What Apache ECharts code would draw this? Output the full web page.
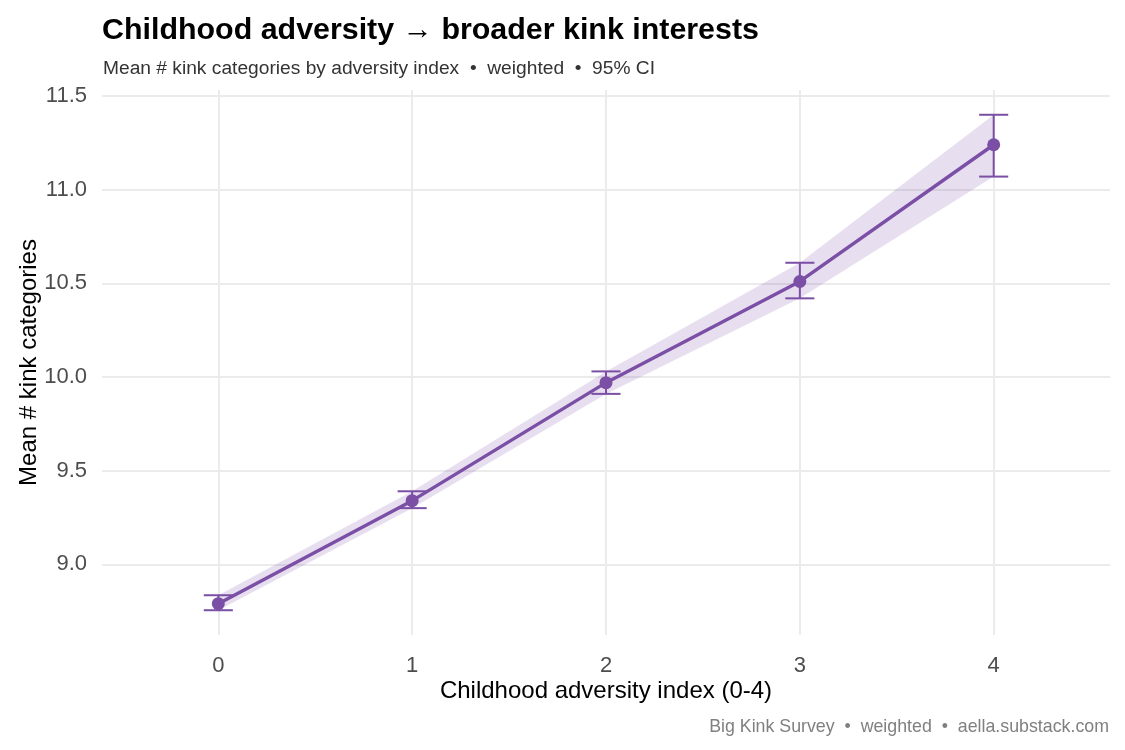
<!DOCTYPE html>
<html>
<head>
<meta charset="utf-8">
<script src="https://cdn.jsdelivr.net/npm/echarts@6/dist/echarts.min.js"></script>
<style>
  html, body { margin: 0; padding: 0; background: #fff; }
  #chart { width: 1125px; height: 750px; }
</style>
</head>
<body>
<div id="chart"></div>
<script>
// adversity index 0-4, weighted means with 95% CI
const adversity = [0, 1, 2, 3, 4];
const meanKinks = [8.79, 9.34, 9.97, 10.51, 11.24];
const ciLow = [8.755, 9.30, 9.91, 10.42, 11.07];
const ciHigh = [8.835, 9.39, 10.03, 10.61, 11.40];
const xTicks = [0, 1, 2, 3, 4];
const yTicks = [9.0, 9.5, 10.0, 10.5, 11.0, 11.5];

const purple = '#7A4FA5';
const font = 'Liberation Sans, Arial, sans-serif';

// ggplot style padding: 5% of data range on y, 0.6 on x
const yLo = Math.min(...ciLow), yHi = Math.max(...ciHigh);
const yPad = (yHi - yLo) * 0.05;

const chart = echarts.init(document.getElementById('chart'));

const option = {
    backgroundColor: '#fff',
    animation: false,
    title: [{
        text: 'Childhood adversity \u2192 broader kink interests',
        left: 97,
        top: 11,
        textStyle: { fontFamily: font, fontSize: 30.4, fontWeight: 'bold', color: '#000' }
    }, {
        text: 'Mean # kink categories by adversity index  \u2022  weighted  \u2022  95% CI',
        left: 98,
        top: 54,
        textStyle: { fontFamily: font, fontSize: 19.2, fontWeight: 'normal', color: '#333' }
    }, {
        text: 'Big Kink Survey  \u2022  weighted  \u2022  aella.substack.com',
        right: 11,
        top: 713,
        textStyle: { fontFamily: font, fontSize: 17.8, fontWeight: 'normal', color: '#808080' }
    }],
    grid: {
        left: 102,
        right: 15,
        top: 90,
        bottom: 115
    },
    xAxis: {
        type: 'value',
        min: -0.6,
        max: 4.6,
        name: 'Childhood adversity index (0-4)',
        nameLocation: 'middle',
        nameGap: 44,
        nameMoveOverlap: false,
        nameTextStyle: { fontFamily: font, fontSize: 24, color: '#000' },
        axisLine: { show: false },
        axisTick: { show: false, customValues: xTicks },
        axisLabel: {
            customValues: xTicks,
            margin: 20,
            fontFamily: font,
            fontSize: 22,
            color: '#4d4d4d'
        },
        splitLine: { show: true, lineStyle: { color: '#ebebeb', width: 2 } }
    },
    yAxis: {
        type: 'value',
        min: yLo - yPad,
        max: yHi + yPad,
        name: 'Mean # kink categories',
        nameLocation: 'middle',
        nameGap: 61,
        nameMoveOverlap: false,
        nameTextStyle: { fontFamily: font, fontSize: 24, color: '#000' },
        axisLine: { show: false },
        axisTick: { show: false, customValues: yTicks },
        axisLabel: {
            customValues: yTicks,
            margin: 15,
            fontFamily: font,
            fontSize: 22,
            color: '#4d4d4d',
            formatter: v => v.toFixed(1)
        },
        splitLine: { show: true, lineStyle: { color: '#ebebeb', width: 2 } }
    },
    series: [{
        // CI ribbon, one polygon built from the arrays
        type: 'custom',
        data: [0],
        silent: true,
        renderItem: function (params, api) {
            const upper = adversity.map((x, i) => api.coord([x, ciHigh[i]]));
            const lower = adversity.map((x, i) => api.coord([x, ciLow[i]])).reverse();
            return {
                type: 'polygon',
                shape: { points: upper.concat(lower) },
                style: { fill: 'rgba(122,79,165,0.18)' }
            };
        },
        z: 1
    }, {
        // error bars
        type: 'custom',
        data: adversity.map((x, i) => [x, ciLow[i], ciHigh[i]]),
        renderItem: function (params, api) {
            const x = api.value(0);
            const lo = api.coord([x, api.value(1)]);
            const hi = api.coord([x, api.value(2)]);
            const half = 0.075;
            const l = api.coord([x - half, api.value(1)])[0];
            const r = api.coord([x + half, api.value(1)])[0];
            const style = { stroke: purple, lineWidth: 2 };
            return {
                type: 'group',
                children: [
                    { type: 'line', shape: { x1: lo[0], y1: lo[1], x2: hi[0], y2: hi[1] }, style: style },
                    { type: 'line', shape: { x1: l, y1: hi[1], x2: r, y2: hi[1] }, style: style },
                    { type: 'line', shape: { x1: l, y1: lo[1], x2: r, y2: lo[1] }, style: style }
                ]
            };
        },
        z: 3
    }, {
        type: 'line',
        data: adversity.map((x, i) => [x, meanKinks[i]]),
        symbol: 'circle',
        symbolSize: 13,
        showSymbol: true,
        lineStyle: { color: purple, width: 3.4 },
        itemStyle: { color: purple },
        z: 4
    }]
};

chart.setOption(option);
</script>
</body>
</html>
